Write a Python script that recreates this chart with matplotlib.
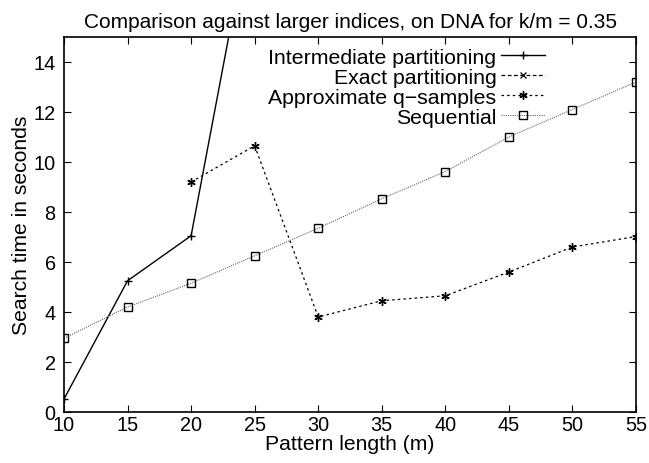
import matplotlib
matplotlib.use("Agg")
import matplotlib.pyplot as plt

plt.rcParams['font.family'] = ['Liberation Sans', 'DejaVu Sans']

m = [10, 15, 20, 25, 30, 35, 40, 45, 50, 55]

inter_x = [10, 15, 20, 25]
inter_y = [0.52, 5.25, 7.05, 20.5]

exact_x = []
exact_y = []

approx_x = [20, 25, 30, 35, 40, 45, 50, 55]
approx_y = [9.2, 10.65, 3.8, 4.45, 4.65, 5.6, 6.6, 7.02]

seq_x = m
seq_y = [2.95, 4.2, 5.15, 6.25, 7.35, 8.53, 9.62, 11.0, 12.1, 13.2]

xticks = [10, 15, 20, 25, 30, 35, 40, 45, 50, 55]
yticks = [0, 2, 4, 6, 8, 10, 12, 14]

fig = plt.figure(figsize=(6.49, 4.64), dpi=100)
ax = fig.add_axes([64/649, 51/464, (636-64)/649, (413-38)/464])

ax.plot(inter_x, inter_y, color='black', lw=1.0, ls='-', marker='+', ms=6, mew=1.0,
        label='Intermediate partitioning')
ax.plot(exact_x, exact_y, color='black', lw=0.9, ls=(0, (3, 2)), marker='x', ms=5, mew=0.9,
        label='Exact partitioning')
ax.plot(approx_x, approx_y, color='black', lw=0.9, ls=(0, (2, 2.5)), marker=(6, 2, 0), ms=6, mew=1.0,
        label='Approximate q\u2212samples')
ax.plot(seq_x, seq_y, color='#666666', lw=0.8, ls=(0, (1, 1)), marker='s', ms=6, mew=1.0,
        mfc='none', mec='black', label='Sequential')

ax.set_xlim(10, 55)
ax.set_ylim(0, 15)
ax.set_xticks(xticks)
ax.set_yticks(yticks)
ax.tick_params(direction='in', top=True, right=True, length=5, width=0.8, labelsize=14.3)
ax.tick_params(axis='x', pad=2.5)
ax.tick_params(axis='y', pad=6)
for s in ax.spines.values():
    s.set_linewidth(1.2)

ax.set_title('Comparison against larger indices, on DNA for k/m = 0.35', fontsize=15, pad=7)
ax.set_xlabel('Pattern length (m)', fontsize=15.2, labelpad=0)
ax.set_ylabel('Search time in seconds', fontsize=15.2, labelpad=2)

leg = ax.legend(loc='upper right', bbox_to_anchor=((556-64)/572, 1.0), markerfirst=False,
                frameon=False, fontsize=15.3, handlelength=2.1, handletextpad=0.2,
                labelspacing=0.05, borderaxespad=0.3, borderpad=0.2)

fig.savefig('out.png', dpi=100)
